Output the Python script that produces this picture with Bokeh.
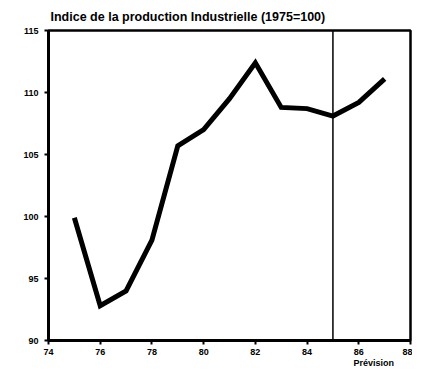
from bokeh.plotting import figure
from bokeh.models import Range1d, Span, FixedTicker, Title
from bokeh.embed import file_html
from bokeh.resources import INLINE

years = [75, 76, 77, 78, 79, 80, 81, 82, 83, 84, 85, 86, 87]
index = [99.9, 92.8, 94.0, 98.1, 105.7, 107.0, 109.5, 112.4, 108.8, 108.7, 108.1, 109.2, 111.1]
x_ticks = [74, 76, 78, 80, 82, 84, 86, 88]
y_ticks = [90, 95, 100, 105, 110, 115]
forecast_start = 85
forecast_tick = 86
title_text = "Indice de la production Industrielle (1975=100)"
forecast_text = "Prévision"

FONT = "Liberation Sans"

p = figure(width=412, height=370, output_backend="svg", toolbar_location=None,
           x_range=Range1d(74, 88), y_range=Range1d(90, 115), title=None,
           min_border_left=48, min_border_right=2, min_border_top=0, min_border_bottom=0)
p.background_fill_color = "white"
p.border_fill_color = "white"
p.outline_line_color = "black"
p.outline_line_width = 2.5
p.xgrid.visible = False
p.ygrid.visible = False

for ax, ticks in ((p.xaxis, x_ticks), (p.yaxis, y_ticks)):
    ax.ticker = FixedTicker(ticks=ticks)
    ax.axis_line_width = 3
    ax.axis_line_color = "black"
    ax.major_tick_line_width = 2
    ax.major_tick_in = 0
    ax.major_tick_out = 4
    ax.minor_tick_line_color = None
    ax.major_label_text_font = FONT
    ax.major_label_text_font_style = "bold"
    ax.major_label_text_font_size = "9px"
    ax.major_label_text_color = "black"
p.xaxis.major_label_standoff = 2
p.yaxis.major_label_standoff = 6

pad = "\u00a0" * 12
p.xaxis.major_label_overrides = {forecast_tick: f"{forecast_tick}\n{pad}{forecast_text}"}
p.xaxis.major_label_text_line_height = 1.1

p.line(years, index, line_width=5, line_color="black", line_join="miter")

p.add_layout(Span(location=forecast_start, dimension="height", line_color="black", line_width=1.5))

t_top = Title(text=title_text, align="left", text_font=FONT, text_font_style="bold",
              text_font_size="12.5px", text_color="black", standoff=14, offset=2)
p.add_layout(t_top, "above")

open("out.html", "w").write(file_html(p, INLINE))
